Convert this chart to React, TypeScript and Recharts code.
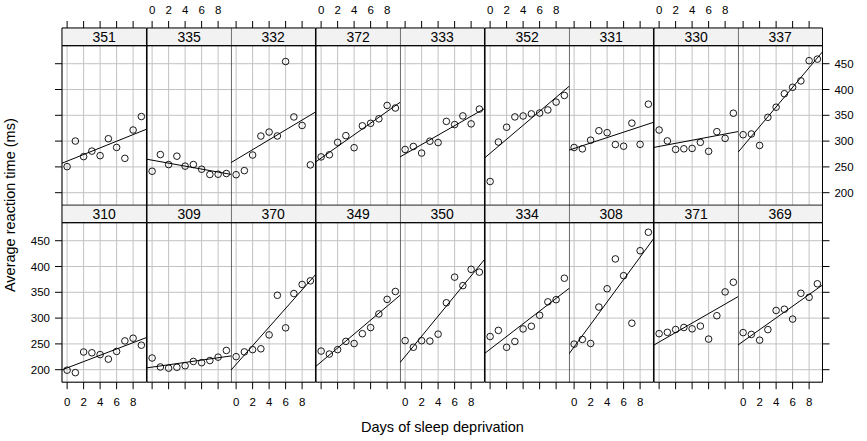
import React from 'react';
import {
  ScatterChart,
  Scatter,
  XAxis,
  YAxis,
  CartesianGrid,
  ReferenceArea,
  ReferenceLine,
} from 'recharts';

// sleepstudy: reaction time (ms) per day of sleep deprivation, one array per subject
const days = [0, 1, 2, 3, 4, 5, 6, 7, 8, 9];

const s308 = [249.6, 258.7, 250.8, 321.4, 356.9, 414.7, 382.2, 290.1, 430.6, 466.4];
const s309 = [222.7, 205.3, 203.0, 204.7, 207.7, 216.0, 213.6, 217.7, 224.3, 237.3];
const s310 = [199.1, 194.3, 234.3, 232.8, 229.3, 220.5, 235.4, 255.8, 261.0, 247.5];
const s330 = [321.5, 300.4, 283.9, 285.1, 285.8, 297.6, 280.2, 318.3, 305.3, 354.0];
const s331 = [287.6, 285.0, 301.8, 320.1, 316.3, 293.3, 290.1, 334.8, 293.7, 371.6];
const s332 = [234.9, 242.8, 273.0, 309.8, 317.5, 310.0, 454.2, 346.8, 330.3, 253.9];
const s333 = [283.8, 289.6, 276.8, 299.8, 297.2, 338.2, 332.0, 348.8, 333.4, 362.0];
const s334 = [264.3, 276.2, 243.4, 254.7, 279.0, 284.2, 305.5, 331.5, 335.7, 377.3];
const s335 = [241.6, 273.9, 254.5, 270.8, 251.5, 254.6, 245.5, 235.3, 235.8, 237.2];
const s337 = [312.4, 313.8, 291.6, 346.1, 365.7, 391.8, 404.3, 416.7, 455.9, 458.9];
const s349 = [236.1, 230.3, 238.9, 254.9, 250.7, 269.8, 281.6, 308.1, 336.3, 351.6];
const s350 = [256.3, 243.5, 256.2, 255.5, 268.9, 329.7, 379.4, 362.9, 394.5, 389.1];
const s351 = [250.5, 300.1, 269.9, 280.6, 271.8, 304.6, 287.7, 266.6, 321.5, 347.6];
const s352 = [221.7, 298.2, 326.9, 346.9, 348.7, 352.8, 354.4, 360.4, 375.6, 388.5];
const s369 = [271.9, 268.4, 257.2, 277.7, 314.8, 317.2, 298.1, 348.1, 340.3, 366.5];
const s370 = [225.3, 234.5, 238.9, 240.5, 267.5, 344.2, 281.1, 347.6, 365.2, 372.2];
const s371 = [269.9, 272.4, 277.9, 281.8, 279.2, 284.5, 259.3, 304.6, 350.8, 369.5];
const s372 = [269.4, 273.5, 297.6, 310.6, 287.2, 329.6, 334.5, 343.2, 369.1, 364.1];

const topRow = ['351', '335', '332', '372', '333', '352', '331', '330', '337'];
const bottomRow = ['310', '309', '370', '349', '350', '334', '308', '371', '369'];

const dayTicks = [0, 2, 4, 6, 8];
const rtTicks = [200, 250, 300, 350, 400, 450];

const bySubject: Record<string, number[]> = {
  '308': s308, '309': s309, '310': s310, '330': s330, '331': s331, '332': s332,
  '333': s333, '334': s334, '335': s335, '337': s337, '349': s349, '350': s350,
  '351': s351, '352': s352, '369': s369, '370': s370, '371': s371, '372': s372,
};

// layout
const FONT = '"Liberation Sans", Arial, Helvetica, sans-serif';
const LEFT = 62.3;
const RIGHT = 822.7;
const PW = (RIGHT - LEFT) / 9;
const TOP = 28;
const SH = 17.7; // strip height
const DH = 159.5; // data panel height
const X_LO = -0.62;
const X_HI = 9.62;
const Y_LO = 175.8;
const Y_HI = 484.9;
const Y_STRIP = Y_HI + (SH * (Y_HI - Y_LO)) / DH;

function lmFit(ys: number[]) {
  const n = days.length;
  const mx = days.reduce((s, v) => s + v, 0) / n;
  const my = ys.reduce((s, v) => s + v, 0) / n;
  let sxy = 0;
  let sxx = 0;
  days.forEach((x, i) => {
    sxy += (x - mx) * (ys[i] - my);
    sxx += (x - mx) * (x - mx);
  });
  const b = sxy / sxx;
  return { a: my - b * mx, b };
}

const OpenCircle = (props: any) => {
  const { cx, cy } = props;
  return <circle cx={cx} cy={cy} r={3.3} fill="none" stroke="#000" strokeWidth={0.9} />;
};

// keeps the ticks (so the grid gets them) but draws no label
const NoLabel = () => <g />;

const tickStyle = { fontSize: 11.5, fill: '#000', fontFamily: FONT };

function Panel({ id, row, col }: { id: string; row: number; col: number }) {
  const ys = bySubject[id];
  const points = days.map((d, i) => ({ day: d, rt: ys[i] }));
  const { a, b } = lmFit(ys);

  const padL = col === 0 ? 45 : 0;
  const padR = col === 8 ? 45 : 0;
  const padT = row === 0 ? 28 : 0;
  const padB = row === 1 ? 30 : 0;
  const width = PW + padL + padR;
  const height = SH + DH + padT + padB;
  const xLabels = row === 0 ? col % 2 === 1 : col % 2 === 0;
  const yOuter = col === 0 || col === 8;
  const yLabels = (col === 0 && row === 1) || (col === 8 && row === 0);

  return (
    <div
      style={{
        position: 'absolute',
        left: LEFT + col * PW - padL,
        top: TOP + row * (SH + DH) - padT,
      }}
    >
      <ScatterChart width={width} height={height} margin={{ top: 0, right: 0, bottom: 0, left: 0 }}>
        <CartesianGrid stroke="#c2c2c2" strokeWidth={1} />
        <XAxis
          type="number"
          dataKey="day"
          domain={[X_LO, X_HI]}
          allowDataOverflow
          ticks={dayTicks}
          orientation={row === 0 ? 'top' : 'bottom'}
          height={row === 0 ? padT : padB}
          axisLine={false}
          tickLine={{ stroke: '#000' }}
          tickSize={7}
          tickMargin={row === 0 ? 6.5 : 8.3}
          tick={xLabels ? tickStyle : NoLabel}
          interval={0}
        />
        <YAxis
          type="number"
          dataKey="rt"
          domain={[Y_LO, Y_STRIP]}
          allowDataOverflow
          ticks={rtTicks}
          orientation={col === 8 ? 'right' : 'left'}
          width={yOuter ? 45 : 0}
          axisLine={false}
          tickLine={yOuter ? { stroke: '#000' } : false}
          tickSize={7}
          tickMargin={5}
          tick={yLabels ? tickStyle : NoLabel}
          interval={0}
        />
        <ReferenceLine
          segment={[
            { x: X_LO, y: a + b * X_LO },
            { x: X_HI, y: a + b * X_HI },
          ]}
          stroke="#000"
          strokeWidth={1}
          ifOverflow="hidden"
        />
        <Scatter data={points} shape={OpenCircle} isAnimationActive={false} />
        <ReferenceArea
          x1={X_LO}
          x2={X_HI}
          y1={Y_HI}
          y2={Y_STRIP}
          fill="#f2f2f2"
          fillOpacity={1}
          stroke="#000"
          strokeWidth={1}
          label={{ value: id, position: 'center', fontSize: 14, fill: '#000', fontFamily: FONT }}
        />
        <ReferenceArea
          x1={X_LO}
          x2={X_HI}
          y1={Y_LO}
          y2={Y_HI}
          fill="none"
          stroke="#000"
          strokeWidth={1}
        />
      </ScatterChart>
    </div>
  );
}

export default function App() {
  return (
    <div
      style={{
        position: 'absolute',
        left: 0,
        top: 0,
        width: 867,
        height: 441,
        background: '#fff',
        fontFamily: FONT,
      }}
    >
      {topRow.map((id, c) => (
        <Panel key={id} id={id} row={0} col={c} />
      ))}
      {bottomRow.map((id, c) => (
        <Panel key={id} id={id} row={1} col={c} />
      ))}
      <svg width={867} height={441} style={{ position: 'absolute', left: 0, top: 0, pointerEvents: 'none' }}>
        <text
          x={442.5}
          y={426.7}
          textAnchor="middle"
          dominantBaseline="central"
          fontSize={14.5}
          fontFamily={FONT}
          fill="#000"
        >
          Days of sleep deprivation
        </text>
        <text
          transform="translate(9.5 205.2) rotate(-90)"
          textAnchor="middle"
          dominantBaseline="central"
          fontSize={14.5}
          fontFamily={FONT}
          fill="#000"
        >
          Average reaction time (ms)
        </text>
      </svg>
    </div>
  );
}
